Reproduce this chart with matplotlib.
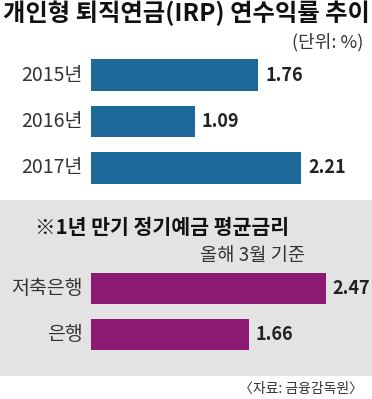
import matplotlib.pyplot as plt
from matplotlib.patches import Rectangle

plt.rcParams['font.family'] = ['Noto Sans CJK KR', 'DejaVu Sans']

# IRP yearly return
years = ['2015년', '2016년', '2017년']
irp_rates = [1.76, 1.09, 2.21]

# 1-year time deposit average rate (as of March)
banks = ['저축은행', '은행']
deposit_rates = [2.47, 1.66]

W, H = 372, 399
fig = plt.figure(figsize=(W / 100, H / 100), dpi=100)
fig.patch.set_facecolor('white')

# grey box behind the second chart
fig.patches.append(Rectangle((0, 1 - 376 / H), 1, 176 / H, transform=fig.transFigure,
                             facecolor='#e3e3e3', edgecolor='none', zorder=-5))

BLUE = '#1d6a9a'
PURPLE = '#8c1a72'
PX_PER_UNIT = 95.0
LEFT = 91


def bar_axes(top, bottom, n):
    ax = fig.add_axes([LEFT / W, 1 - bottom / H, (W - LEFT) / W, (bottom - top) / H])
    ax.set_xlim(0, (W - LEFT) / PX_PER_UNIT)
    ax.set_ylim(n - 0.5, -0.5)
    ax.axis('off')
    ax.patch.set_alpha(0)
    return ax


def draw(ax, labels, values, color):
    ax.barh(range(len(values)), values, height=0.69, color=color)
    for i, (lab, v) in enumerate(zip(labels, values)):
        ax.text(-0.09, i, lab, ha='right', va='center', fontsize=14, color='#333333')
        ax.text(v + 0.075, i, f'{v:.2f}', ha='left', va='center', fontsize=13,
                fontweight='bold', color='#222222')


ax1 = bar_axes(52, 191, len(years))
draw(ax1, years, irp_rates, BLUE)

ax2 = bar_axes(265.5, 357.5, len(banks))
draw(ax2, banks, deposit_rates, PURPLE)

fig.text(186 / W, 1 - 13 / H, '개인형 퇴직연금(IRP) 연수익률 추이', ha='center', va='center',
         fontsize=17.5, fontweight='bold', color='#111111')
fig.text(363 / W, 1 - 42 / H, '(단위: %)', ha='right', va='center', fontsize=13, color='#333333')
fig.text(35 / W, 1 - 228 / H, '※1년 만기 정기예금 평균금리', ha='left', va='center',
         fontsize=14.8, fontweight='bold', color='#111111')
fig.text(305 / W, 1 - 256 / H, '올해 3월 기준', ha='right', va='center', fontsize=13.5, color='#333333')
fig.text(363 / W, 1 - 389 / H, '〈자료: 금융감독원〉', ha='right', va='center', fontsize=10, color='#333333')

fig.savefig('out.png', dpi=100)
